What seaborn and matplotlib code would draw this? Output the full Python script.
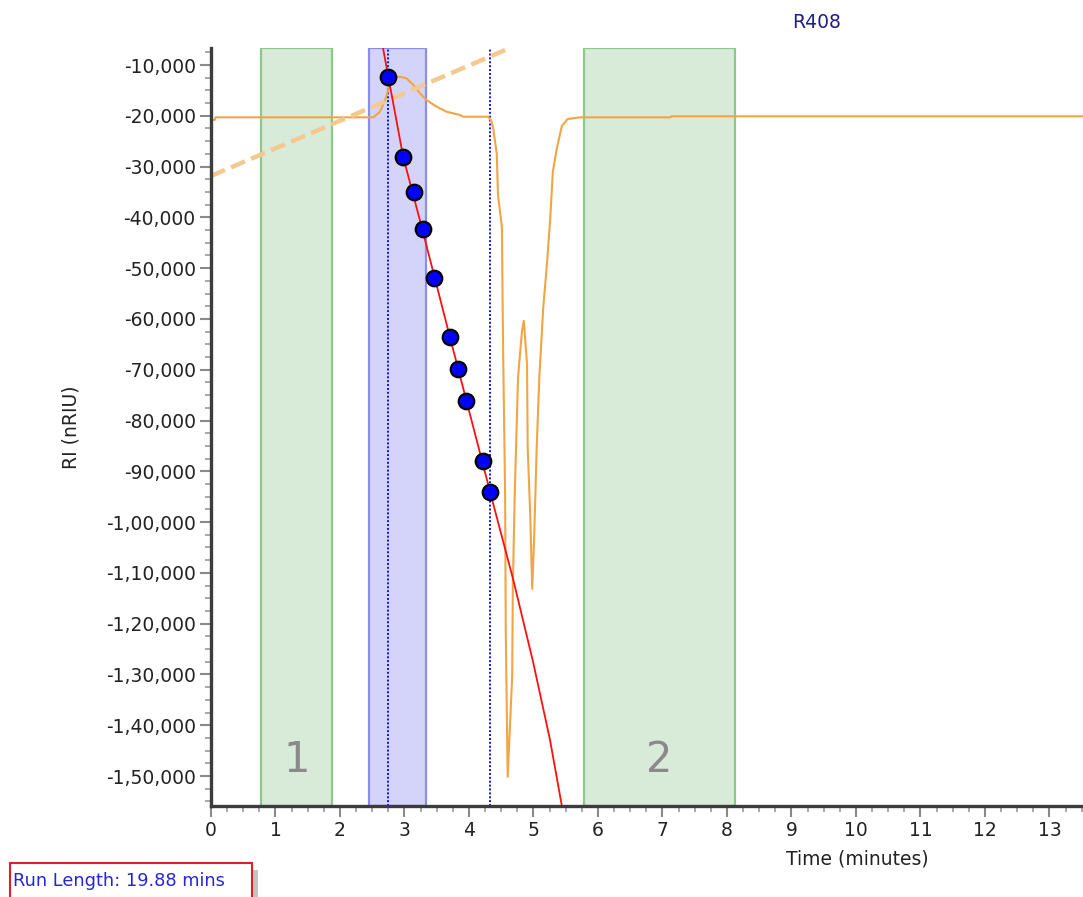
import matplotlib
matplotlib.use("Agg")
import matplotlib.pyplot as plt
import seaborn as sns
from matplotlib.patches import Rectangle
from matplotlib.ticker import MultipleLocator, FixedLocator, FixedFormatter

sns.set_theme(style="white")
plt.rcParams['font.family'] = ['DejaVu Sans']

# ---------------- data ----------------
signal_time = [0.00, 0.06, 0.07, 2.52, 2.62, 2.70, 2.78, 2.83, 2.93, 3.03, 3.14, 3.24,
               3.34, 3.50, 3.65, 3.86, 3.91, 4.30, 4.35, 4.38, 4.40, 4.43, 4.45, 4.51,
               4.53, 4.56, 4.57, 4.60, 4.67, 4.68, 4.71, 4.74, 4.76, 4.82, 4.85, 4.90,
               4.91, 4.95, 4.98, 5.01, 5.05, 5.09, 5.15, 5.21, 5.26, 5.30, 5.36, 5.44,
               5.53, 5.72, 7.12, 7.14, 13.52]
signal_ri = [-20800, -20800, -20300, -20300, -19190, -16890, -13540, -12420, -12300, -12620,
             -13940, -15570, -16890, -18210, -19190, -19840, -20180, -20180, -21160, -22800,
             -24760, -27380, -35600, -41900, -67100, -94250, -121200, -150160, -130300,
             -112400, -94250, -80670, -71600, -62560, -60400, -68860, -85200, -98780,
             -113150, -103300, -85200, -71600, -58000, -48980, -40100, -31060, -26540,
             -22000, -20630, -20300, -20300, -20100, -20100]

point_time = [2.75, 2.98, 3.15, 3.28, 3.45, 3.71, 3.83, 3.95, 4.21, 4.33]
point_ri = [-12300, -28170, -34940, -42340, -51870, -63600, -69840, -76080, -87890, -94000]

fit_time = [2.667, 2.749, 2.981, 3.276, 3.705, 4.326, 4.687, 4.997, 5.256, 5.437]
fit_ri = [-6650, -12300, -28170, -42340, -63600, -94000, -111380, -127720, -142870, -155670]

baseline_time = [0.0, 4.56]
baseline_ri = [-31850, -7050]

region_starts = [0.77, 2.45, 5.78]
region_ends = [1.876, 3.333, 8.12]
region_labels = ["1", "", "2"]
region_kinds = ["green", "blue", "green"]

marker_times = [2.749, 4.326]

x_ticks = list(range(14))
y_ticks = [-10000, -20000, -30000, -40000, -50000, -60000, -70000, -80000,
           -90000, -100000, -110000, -120000, -130000, -140000, -150000]
y_tick_labels = ["-10,000", "-20,000", "-30,000", "-40,000", "-50,000", "-60,000",
                 "-70,000", "-80,000", "-90,000", "-1,00,000", "-1,10,000",
                 "-1,20,000", "-1,30,000", "-1,40,000", "-1,50,000"]

title_text = "R408"
x_label = "Time (minutes)"
y_label = "RI (nRIU)"
run_length_text = "Run Length: 19.88 mins"

# ---------------- figure ----------------
W, H = 1083, 897
fig = plt.figure(figsize=(W / 100, H / 100), dpi=100)
ax = fig.add_axes([211 / W, (H - 806) / H, 872 / W, 758 / H])

styles = {
    "green": dict(facecolor="#d8ebd8", edgecolor="#8cc88c"),
    "blue": dict(facecolor="#d4d4fa", edgecolor="#8c8cf0"),
}
for s, e, lab, kind in zip(region_starts, region_ends, region_labels, region_kinds):
    ax.axvspan(s, e, lw=1.6, zorder=1, **styles[kind])
    if lab:
        ax.text((s + e) / 2, -146800, lab, fontsize=30, color="#8a8a8a",
                ha="center", va="center", zorder=2)

for t in marker_times:
    ax.axvline(t, color="#1010e8", lw=1.4, linestyle=(0, (1, 1)), zorder=2)

sns.lineplot(x=signal_time, y=signal_ri, sort=False, estimator=None,
             color="#f3a443", lw=1.5, ax=ax, zorder=3)
sns.lineplot(x=baseline_time, y=baseline_ri, sort=False, estimator=None,
             color="#f5c890", lw=3.2, linestyle=(0, (3.4, 1.5)), ax=ax, zorder=3)
sns.lineplot(x=fit_time, y=fit_ri, sort=False, estimator=None,
             color="#ff1010", lw=1.3, ax=ax, zorder=4)
sns.scatterplot(x=point_time, y=point_ri, s=125, color="#0000ff",
                edgecolor="black", linewidth=1.6, ax=ax, zorder=5)

ax.set_xlim(0, 13.52)
ax.set_ylim(-155900, -6650)

ax.xaxis.set_major_locator(FixedLocator(x_ticks))
ax.xaxis.set_major_formatter(FixedFormatter([str(v) for v in x_ticks]))
ax.xaxis.set_minor_locator(MultipleLocator(0.25))
ax.yaxis.set_major_locator(FixedLocator(y_ticks))
ax.yaxis.set_major_formatter(FixedFormatter(y_tick_labels))
ax.yaxis.set_minor_locator(MultipleLocator(2500))

ax.tick_params(axis="both", which="major", length=8, width=1.5, color="#8a8a8a",
               labelsize=13.5, labelcolor="#222222", pad=3,
               bottom=True, left=True)
ax.tick_params(axis="both", which="minor", length=4, width=1.3, color="#a0a0a0",
               bottom=True, left=True)

for side in ["top", "right"]:
    ax.spines[side].set_visible(False)
for side in ["left", "bottom"]:
    ax.spines[side].set_color("#3c3c3c")
    ax.spines[side].set_linewidth(2.4)
    ax.spines[side].set_zorder(6)

ax.set_xlabel(x_label, fontsize=13.5, color="#222222")
ax.xaxis.set_label_coords(0.741, -0.058)
ax.set_ylabel(y_label, fontsize=13.5, color="#222222")
ax.yaxis.set_label_coords(-0.150, 0.5)
ax.set_facecolor("white")

fig.text(817 / W, 1 - 22 / H, title_text, color="#1e1e86", fontsize=13.5,
         ha="center", va="center")

fig.add_artist(Rectangle((10 / W, -0.01), 242 / W, (897 - 863) / H + 0.01,
                         transform=fig.transFigure, fill=False,
                         edgecolor="#e02020", lw=1.5))
fig.add_artist(Rectangle((253 / W, 0), 5 / W, (897 - 870) / H,
                         transform=fig.transFigure, facecolor="#c4c4c4",
                         edgecolor="none"))
fig.text(13 / W, 1 - 881 / H, run_length_text, color="#2626d6", fontsize=12.8,
         ha="left", va="center")

fig.savefig("out.png", dpi=100)
